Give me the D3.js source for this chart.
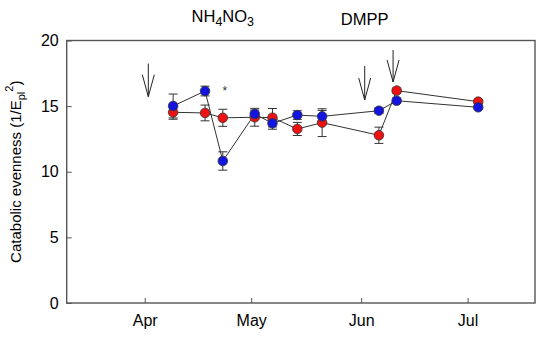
<!DOCTYPE html>
<html>
<head>
<meta charset="utf-8">
<script src="https://cdn.jsdelivr.net/npm/d3@7"></script>
<style>
  body { margin: 0; background: #fff; }
  svg { display: block; font-family: Arial, "Liberation Sans", sans-serif; }
</style>
</head>
<body>
<script>
// sampling dates (2014)
var dates = ["2014-04-09", "2014-04-18", "2014-04-23", "2014-05-02", "2014-05-07",
             "2014-05-14", "2014-05-21", "2014-06-06", "2014-06-11", "2014-07-04"];
var redMean  = [14.53, 14.48, 14.11, 14.15, 14.12, 13.26, 13.74, 12.78, 16.18, 15.34];
var redErr   = [0.53, 0.60, 0.65, 0.68, 0.70, 0.50, 1.06, 0.62, 0.20, 0.15];
var blueMean = [15.01, 16.15, 10.82, 14.40, 13.69, 14.32, 14.22, 14.65, 15.41, 14.91];
var blueErr  = [0.91, 0.37, 0.70, 0.30, 0.45, 0.33, 0.45, 0.20, 0.20, 0.15];
var yTicks = [0, 5, 10, 15, 20];
// arrows: date, top value, tip value
var arrowDates = ["2014-04-02", "2014-06-02", "2014-06-10"];
var arrowTop   = [18.25, 18.06, 19.28];
var arrowTip   = [15.72, 15.47, 16.84];
var starDates = ["2014-04-23"];
var starVals  = [16.3];

var W = 550, H = 338;
var mLeft = 66.7, mRight = 535, mTop = 40.5, mBottom = 303;
var parse = d3.timeParse("%Y-%m-%d");

var x = d3.scaleTime()
  .domain([new Date(2014, 2, 10), new Date(2014, 6, 20)])
  .range([mLeft, mRight]);
var y = d3.scaleLinear().domain([0, 20]).range([mBottom, mTop]);

var svg = d3.select("body").append("svg").attr("width", W).attr("height", H);

// axes
var xAxis = d3.axisBottom(x)
  .ticks(d3.timeMonth.every(1))
  .tickFormat(d3.timeFormat("%b"))
  .tickSizeInner(-5).tickSizeOuter(0).tickPadding(12);
var gx = svg.append("g").attr("transform", "translate(0," + mBottom + ")").call(xAxis);
var yAxis = d3.axisLeft(y).tickValues(yTicks).tickSizeInner(-5).tickSizeOuter(0).tickPadding(8);
var gy = svg.append("g").attr("transform", "translate(" + mLeft + ",0)").call(yAxis);
[gx, gy].forEach(function (g) {
  g.select(".domain").remove();
  g.selectAll(".tick line").attr("stroke", "#555").attr("stroke-width", 1);
  g.selectAll(".tick text").attr("font-size", 16).attr("fill", "#000")
    .attr("font-family", "Arial, 'Liberation Sans', sans-serif");
});

// frame
svg.append("rect")
  .attr("x", mLeft).attr("y", mTop)
  .attr("width", mRight - mLeft).attr("height", mBottom - mTop)
  .attr("fill", "none").attr("stroke", "#555").attr("stroke-width", 1.4);

// y title
var yt = svg.append("text")
  .attr("transform", "translate(21," + ((mTop + mBottom) / 2) + ") rotate(-90)")
  .attr("text-anchor", "middle").attr("font-size", 15);
yt.append("tspan").text("Catabolic evenness (1/E");
yt.append("tspan").attr("font-size", 11).attr("dy", 4).text("pl");
yt.append("tspan").attr("font-size", 11).attr("dy", -12).text("2");
yt.append("tspan").attr("dy", 8).text(")");

// treatment labels
var t1 = svg.append("text").attr("x", x(parse("2014-04-23"))).attr("y", 22)
  .attr("text-anchor", "middle").attr("font-size", 16.5);
t1.append("tspan").text("NH");
t1.append("tspan").attr("font-size", 12.5).attr("dy", 4).text("4");
t1.append("tspan").attr("dy", -4).text("NO");
t1.append("tspan").attr("font-size", 12.5).attr("dy", 4).text("3");
svg.append("text").attr("x", x(parse("2014-06-02"))).attr("y", 25)
  .attr("text-anchor", "middle").attr("font-size", 16.5).text("DMPP");

// arrows
arrowDates.forEach(function (d, i) {
  var ax = x(parse(d)), y0 = y(arrowTop[i]), y1 = y(arrowTip[i]);
  svg.append("path")
    .attr("d", "M" + ax + "," + y0 + "V" + y1 + "M" + (ax - 6) + "," + (y1 - 22) +
      "L" + ax + "," + y1 + "L" + (ax + 6) + "," + (y1 - 22))
    .attr("fill", "none").attr("stroke", "#222").attr("stroke-width", 1);
});

// star
starDates.forEach(function (d, i) {
  svg.append("text").attr("x", x(parse(d)) + 2).attr("y", y(starVals[i]) + 6)
    .attr("text-anchor", "middle").attr("font-size", 12).attr("fill", "#333").text("*");
});

function drawSeries(means, errs) {
  var pts = dates.map(function (d, i) { return { d: parse(d), m: means[i], e: errs[i] }; });
  var line = d3.line().x(function (p) { return x(p.d); }).y(function (p) { return y(p.m); });
  svg.append("path").attr("d", line(pts))
    .attr("fill", "none").attr("stroke", "#333").attr("stroke-width", 1);
  var eb = svg.append("g").attr("stroke", "#333").attr("stroke-width", 1);
  pts.forEach(function (p) {
    var px = x(p.d);
    eb.append("line").attr("x1", px).attr("x2", px).attr("y1", y(p.m - p.e)).attr("y2", y(p.m + p.e));
    [p.m - p.e, p.m + p.e].forEach(function (v) {
      eb.append("line").attr("x1", px - 4.5).attr("x2", px + 4.5).attr("y1", y(v)).attr("y2", y(v));
    });
  });
  return pts;
}
var rp = drawSeries(redMean, redErr);
var bp = drawSeries(blueMean, blueErr);
[[rp, "#ee1111"], [bp, "#1414e0"]].forEach(function (s) {
  svg.append("g").selectAll("circle").data(s[0]).enter().append("circle")
    .attr("cx", function (p) { return x(p.d); })
    .attr("cy", function (p) { return y(p.m); })
    .attr("r", 4.8)
    .attr("fill", s[1]).attr("stroke", "#333").attr("stroke-width", 0.8);
});
</script>
</body>
</html>
